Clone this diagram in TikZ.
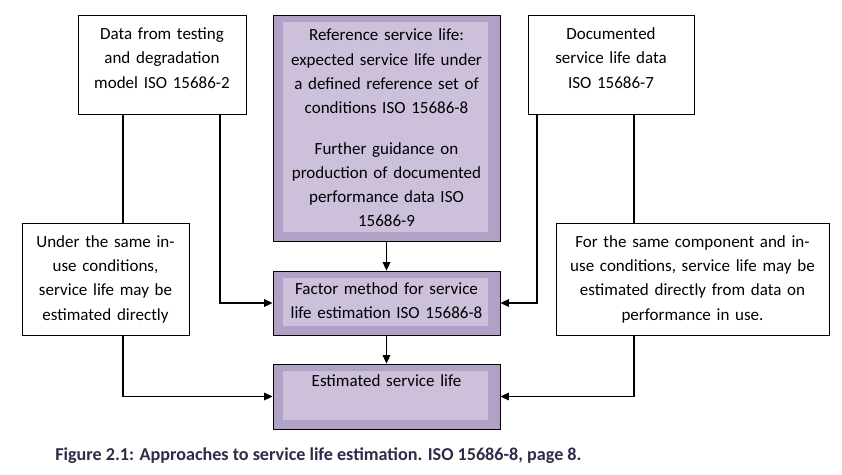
\documentclass[tikz,border=0pt]{standalone}
\usepackage{fontspec}
\setmainfont{Carlito}
\usetikzlibrary{arrows.meta,positioning,calc}
\definecolor{lilacdark}{HTML}{B2A1C7}
\definecolor{lilaclight}{HTML}{CCC0DA}
\definecolor{capink}{HTML}{2E2C47}
\tikzset{
  bx/.style={draw=black, line width=0.6pt, align=center, inner sep=0pt,
    font=\fontsize{12.1}{17.3}\selectfont},
  plain/.style={bx, fill=white},
  lilac/.style={bx, fill=lilacdark,
    path picture={\fill[lilaclight]
      ([xshift=0.25cm,yshift=-0.17cm]path picture bounding box.north west) rectangle
      ([xshift=-0.31cm,yshift=0.22cm]path picture bounding box.south east);}},
  arr/.style={-{Triangle[length=2.1mm,width=1.9mm]}, line width=0.8pt},
  ln/.style={line width=0.8pt},
}
\begin{document}
\begin{tikzpicture}[x=0.025cm, y=-0.025cm]
      \useasboundingbox[fill=white] (0,0) rectangle (842,474);
      % sources
      \node[plain, minimum width=4.2cm, minimum height=2.475cm, text width=4cm, text depth=44pt] (data) at (162,64.5)
        {Data from testing\\and degradation\\model ISO 15686-2};
      \node[lilac, minimum width=5.675cm, minimum height=5.65cm, text width=5.3cm] (ref) at (386.5,128)
        {Reference service life:\\expected service life under\\a defined reference set of\\conditions ISO 15686-8\\[0.4cm]
         Further guidance on\\production of documented\\performance data ISO\\15686-9};
      \node[plain, minimum width=4.15cm, minimum height=2.475cm, text width=4cm, text depth=44pt] (doc) at (611,64.5)
        {Documented\\service life data\\ISO 15686-7};
      % direct routes
      \node[plain, minimum width=4.175cm, minimum height=2.8cm, text width=4cm] (under) at (105.5,279)
        {Under the same in-\\use conditions,\\service life may be\\estimated directly};
      \node[plain, minimum width=6.825cm, minimum height=2.8cm, text width=6.6cm] (same) at (692.5,279)
        {For the same component and in-\\use conditions, service life may be\\estimated directly from data on\\performance in use.};
      % method and result
      \node[lilac, minimum width=5.675cm, minimum height=1.6cm, text width=5.3cm, text depth=21pt] (factor) at (386.5,303)
        {Factor method for service\\life estimation ISO 15686-8};
      \node[lilac, minimum width=5.675cm, minimum height=1.625cm, text width=5.3cm, text depth=23pt] (est) at (386.5,396.5)
        {Estimated service life};
      \node[font=\fontsize{12.9}{14}\selectfont\bfseries, text=capink, anchor=west, inner sep=0pt] (cap) at (55,456)
        {Figure 2.1: Approaches to service life estimation. ISO 15686-8, page 8.};
      % connectors
      \draw[ln] ([xshift=-0.975cm]data.south) -- ([xshift=-0.975cm]data.south |- under.north);
      \draw[arr] ([xshift=1.45cm]data.south) |- (factor.west);
      \draw[arr] ([xshift=0.4375cm]under.south) |- (est.west);
      \draw[arr] (ref.south) -- (factor.north);
      \draw[arr] (factor.south) -- (est.north);
      \draw[arr] ([xshift=-1.85cm]doc.south) |- (factor.east);
      \draw[ln] ([xshift=0.575cm]doc.south) -- ([xshift=0.575cm]doc.south |- same.north);
      \draw[arr] ([xshift=-1.4625cm]same.south) |- (est.east);
    \end{tikzpicture}
\end{document}
